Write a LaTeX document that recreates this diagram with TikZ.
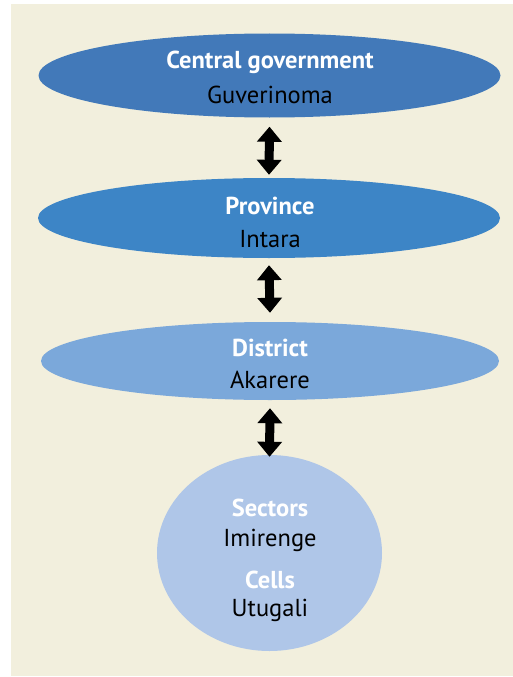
\documentclass[tikz,border=0pt]{standalone}
\usepackage{fontspec}
\setmainfont{PT Sans}
\usetikzlibrary{shapes.geometric,arrows.meta}
\definecolor{paper}{HTML}{F2EFDD}
\definecolor{levelone}{HTML}{4279B9}
\definecolor{leveltwo}{HTML}{3D85C6}
\definecolor{levelthree}{HTML}{7BA8DA}
\definecolor{levelfour}{HTML}{AFC6E8}
\tikzset{
  tier/.style={ellipse,inner sep=0pt,minimum width=462pt,minimum height=84pt},
  engname/.style={text=white,font=\bfseries\fontsize{24.5}{28}\selectfont},
  kinyname/.style={text=black,font=\fontsize{24.5}{28}\selectfont},
  link/.style={line width=9pt,{Triangle[width=24pt,length=15pt]}-{Triangle[width=24pt,length=15pt]}}
}
\begin{document}
\begin{tikzpicture}[x=1pt,y=-1pt]
\useasboundingbox (0,0) rectangle (513,677);
\fill[paper] (11,4) rectangle (513,676);

\node[tier,fill=levelone] (central) at (269.5,75.5) {};
\node[tier,fill=leveltwo,minimum height=80pt] (province) at (269,218) {};
\node[tier,fill=levelthree,minimum width=458pt,minimum height=78pt] (district) at (270,361) {};
\node[ellipse,inner sep=0pt,fill=levelfour,minimum width=225pt,minimum height=196pt] (sectors) at (269.5,553) {};

\node[engname] (centralen) at (270,62) {Central government};
\node[kinyname] (centralrw) at (270,95) {Guverinoma};
\node[engname] (provinceen) at (270,206) {Province};
\node[kinyname] (provincerw) at (270,239) {Intara};
\node[engname] (districten) at (270,348) {District};
\node[kinyname] (districtrw) at (270,380) {Akarere};
\node[engname] (sectorsen) at (270,508) {Sectors};
\node[kinyname] (sectorsrw) at (270,540) {Imirenge};
\node[engname] (cellsen) at (270,580) {Cells};
\node[kinyname] (cellsrw) at (270,610) {Utugali};

\draw[link] ([yshift=-9pt]central.south) -- ([yshift=3pt]province.north);
\draw[link] ([yshift=-7pt]province.south) -- ([yshift=9pt]district.north);
\draw[link] ([yshift=-8pt]district.south) -- ([yshift=-2pt]sectors.north);
\end{tikzpicture}
\end{document}
